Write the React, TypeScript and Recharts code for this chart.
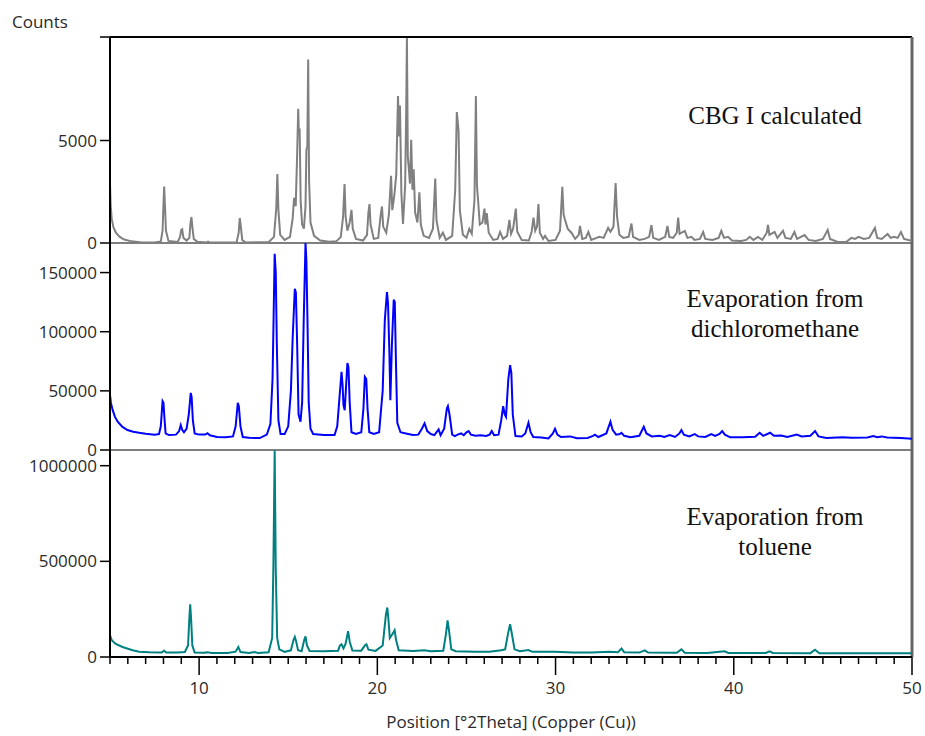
import { Line, LineChart, ReferenceLine, XAxis, YAxis } from 'recharts';

// 2-theta positions / counts
const calculated: [number, number][] = [
  [5.0, 2900], [5.04, 1800], [5.1, 1150], [5.2, 750], [5.35, 480], [5.55, 300], [5.8, 170], [6.2, 80], [6.8, 30], [7.5, 20],
  [7.85, 80], [7.95, 600], [8.0, 1900], [8.04, 2750], [8.08, 1900], [8.14, 600], [8.28, 100],
  [8.8, 50], [8.93, 300], [9.0, 640], [9.05, 670], [9.12, 250], [9.3, 120],
  [9.45, 250], [9.52, 1000], [9.57, 1270], [9.62, 800], [9.7, 200], [9.9, 60],
  [10.4, 20], [10.5, 70], [10.6, 20],
  [12.1, 30], [12.22, 500], [12.28, 1210], [12.33, 900], [12.42, 150], [12.6, 30],
  [13.9, 40], [14.2, 300], [14.33, 1700], [14.39, 3370], [14.45, 1600], [14.55, 400], [14.8, 150], [15.1, 300],
  [15.25, 1200], [15.33, 2200], [15.42, 1800], [15.5, 4300], [15.56, 6550], [15.6, 5300], [15.64, 5580], [15.7, 2000],
  [15.78, 900], [15.88, 700], [15.97, 1800], [16.02, 4550], [16.07, 4700], [16.12, 8950], [16.17, 3040], [16.25, 1000],
  [16.45, 350], [16.8, 120], [17.3, 60], [17.7, 80],
  [17.95, 300], [18.08, 1300], [18.16, 2875], [18.22, 1300], [18.32, 600], [18.45, 1000], [18.55, 1620], [18.62, 700],
  [18.8, 200], [19.2, 120], [19.42, 400], [19.5, 1500], [19.56, 1900], [19.62, 900], [19.8, 200], [20.05, 250],
  [20.18, 1300], [20.26, 1780], [20.33, 800], [20.5, 500], [20.65, 1400], [20.77, 3280], [20.84, 1600], [20.95, 2300],
  [21.06, 3300], [21.16, 7170], [21.22, 5200], [21.27, 6710], [21.35, 2400], [21.44, 930], [21.56, 2800], [21.62, 6500],
  [21.66, 10000], [21.71, 4200], [21.76, 3690], [21.83, 2900], [21.9, 5030], [21.97, 2600], [22.04, 3600], [22.12, 1500],
  [22.25, 1000], [22.36, 2470], [22.44, 900], [22.6, 350], [22.9, 250], [23.12, 700], [23.25, 3150], [23.32, 1100],
  [23.5, 250], [23.68, 500], [23.85, 150], [24.2, 350], [24.37, 2600], [24.46, 6390], [24.56, 5450], [24.63, 1600],
  [24.8, 400], [25.0, 250], [25.16, 690], [25.3, 450], [25.45, 2100], [25.53, 7170], [25.59, 2800], [25.65, 2120],
  [25.75, 900], [25.9, 1000], [26.01, 1680], [26.07, 900], [26.14, 1460], [26.25, 500], [26.5, 150], [26.75, 200],
  [26.89, 540], [27.05, 200], [27.28, 350], [27.41, 1130], [27.5, 450], [27.62, 700], [27.77, 1680], [27.85, 550],
  [28.1, 150], [28.5, 120], [28.66, 550], [28.76, 1240], [28.86, 600], [28.96, 800], [29.04, 1900], [29.12, 500],
  [29.3, 200], [29.41, 350], [29.6, 100], [30.0, 150], [30.25, 600], [30.38, 2740], [30.45, 1400], [30.53, 1130],
  [30.68, 700], [30.9, 490], [31.1, 200], [31.3, 400], [31.37, 830], [31.5, 200], [31.7, 250], [31.84, 540],
  [32.0, 150], [32.3, 250], [32.45, 300], [32.7, 250], [32.95, 735], [33.08, 550], [33.25, 800], [33.37, 2925],
  [33.45, 1300], [33.58, 400], [33.8, 250], [34.1, 300], [34.26, 950], [34.35, 300], [34.7, 150], [35.0, 200],
  [35.25, 300], [35.38, 870], [35.48, 250], [35.8, 150], [36.15, 300], [36.28, 833], [36.38, 300], [36.6, 250],
  [36.8, 500], [36.88, 1240], [36.96, 450], [37.25, 590], [37.4, 250], [37.62, 300], [37.8, 150], [38.1, 200],
  [38.28, 540], [38.4, 200], [38.8, 150], [39.15, 250], [39.3, 590], [39.45, 250], [39.68, 300], [39.9, 120],
  [40.4, 100], [40.7, 150], [40.9, 300], [41.1, 150], [41.36, 300], [41.6, 150], [41.85, 500], [41.92, 880],
  [42.0, 400], [42.29, 540], [42.45, 250], [42.76, 590], [42.9, 250], [43.2, 200], [43.4, 540], [43.55, 200],
  [43.97, 390], [44.2, 150], [44.6, 100], [45.0, 200], [45.27, 640], [45.4, 200], [45.8, 60], [46.3, 50],
  [46.6, 250], [46.8, 200], [47.0, 300], [47.3, 200], [47.6, 250], [47.92, 730], [48.05, 250], [48.3, 200],
  [48.63, 440], [48.8, 250], [49.0, 300], [49.2, 250], [49.38, 540], [49.55, 200], [49.8, 150], [50.0, 120],
];

const dichloromethane: [number, number][] = [
  [5.0, 46400], [5.05, 40000], [5.15, 33700], [5.28, 28000], [5.43, 23900], [5.7, 19500], [5.98, 16900], [6.3, 15500],
  [6.64, 14600], [7.0, 13800], [7.5, 13000], [7.75, 13500], [7.85, 20000], [7.92, 35000], [7.95, 41300], [8.0, 40000],
  [8.05, 28000], [8.12, 14000], [8.3, 12600], [8.7, 13000], [8.88, 16000], [8.97, 21000], [9.05, 17000], [9.15, 15000],
  [9.3, 18000], [9.42, 30000], [9.53, 48300], [9.58, 45000], [9.65, 25000], [9.75, 14000], [10.0, 13000], [10.35, 13000],
  [10.47, 14200], [10.6, 12500], [11.0, 11000], [11.5, 10700], [11.9, 11500], [12.05, 20000], [12.17, 39900], [12.23, 37000],
  [12.32, 20000], [12.45, 11000], [12.8, 10300], [13.4, 10100], [13.8, 13000], [14.0, 22000], [14.12, 60000], [14.18, 112000],
  [14.24, 165800], [14.3, 150000], [14.36, 90000], [14.45, 25000], [14.57, 13500], [14.8, 13500], [15.0, 20000], [15.15, 50000],
  [15.25, 95000], [15.37, 136300], [15.43, 133000], [15.5, 90000], [15.58, 30000], [15.69, 24000], [15.78, 40000], [15.87, 110000],
  [15.97, 175000], [16.02, 160000], [16.08, 110000], [16.15, 40000], [16.25, 18000], [16.4, 13500], [17.0, 12600], [17.6, 12600],
  [17.75, 20000], [17.88, 45000], [17.99, 66000], [18.05, 55000], [18.1, 38000], [18.17, 33700], [18.25, 55000], [18.32, 73600],
  [18.38, 70000], [18.45, 40000], [18.55, 15000], [18.8, 13500], [19.1, 15000], [19.22, 35000], [19.3, 61800], [19.38, 60000],
  [19.45, 35000], [19.55, 15000], [19.8, 13500], [20.1, 15000], [20.3, 50000], [20.42, 110000], [20.54, 133500], [20.6, 124000],
  [20.68, 80000], [20.73, 42100], [20.82, 90000], [20.92, 127000], [20.98, 125000], [21.05, 70000], [21.12, 23000], [21.3, 15000],
  [21.6, 14000], [22.0, 12600], [22.3, 13000], [22.5, 18000], [22.65, 22500], [22.8, 16000], [23.0, 13500], [23.2, 12600],
  [23.44, 17400], [23.55, 12500], [23.75, 18000], [23.9, 35000], [23.96, 37100], [24.05, 30000], [24.2, 13000], [24.35, 11800],
  [24.5, 13000], [24.7, 14000], [24.85, 12500], [25.0, 15000], [25.12, 16000], [25.25, 13000], [25.5, 12000], [25.8, 12500],
  [26.1, 11800], [26.3, 13000], [26.42, 16000], [26.55, 12500], [26.8, 13000], [26.95, 25000], [27.06, 37100], [27.15, 30000],
  [27.22, 28000], [27.35, 60000], [27.45, 71700], [27.52, 65000], [27.6, 30000], [27.75, 11800], [28.1, 11500], [28.3, 14000],
  [28.48, 23000], [28.6, 15000], [28.75, 11000], [29.2, 10500], [29.6, 9700], [29.85, 14000], [29.97, 18000], [30.1, 13000],
  [30.3, 11000], [30.81, 11500], [31.2, 10000], [31.8, 10200], [32.1, 12000], [32.21, 13000], [32.4, 11000], [32.85, 14000],
  [33.08, 23900], [33.2, 17000], [33.4, 13000], [33.6, 13500], [33.7, 14600], [33.85, 12000], [34.2, 10700], [34.7, 12000],
  [34.95, 19700], [35.1, 14000], [35.4, 11500], [35.85, 12000], [36.1, 11000], [36.41, 12600], [36.7, 11000], [36.95, 14000],
  [37.06, 16900], [37.2, 13000], [37.5, 11500], [37.81, 13500], [38.0, 11500], [38.4, 11000], [38.74, 13500], [38.95, 12000],
  [39.2, 13500], [39.35, 16000], [39.5, 13000], [39.8, 10700], [40.5, 10700], [41.2, 11200], [41.45, 14600], [41.65, 12000],
  [42.04, 14600], [42.25, 12000], [42.66, 12200], [43.0, 11000], [43.54, 13000], [43.8, 11500], [44.3, 12000], [44.56, 16000],
  [44.75, 11500], [45.2, 10100], [46.1, 10700], [46.6, 10300], [47.5, 10500], [47.83, 11800], [48.05, 10800], [48.3, 11500],
  [48.6, 10500], [49.38, 10100], [50.0, 9600],
];

const toluene: [number, number][] = [
  [5.0, 113600], [5.1, 87400], [5.3, 70000], [5.7, 52400], [6.27, 35000], [6.64, 28000], [7.2, 25000], [7.9, 24000],
  [8.04, 33000], [8.15, 24000], [8.8, 24000], [9.2, 26000], [9.38, 60000], [9.45, 200000], [9.5, 276000], [9.55, 200000],
  [9.62, 60000], [9.75, 24000], [10.3, 22000], [10.47, 24500], [10.7, 21000], [11.6, 21000], [12.05, 28000], [12.2, 52400],
  [12.32, 26000], [12.8, 21000], [13.1, 26000], [13.3, 21000], [13.9, 25000], [14.1, 100000], [14.17, 497000], [14.24, 1080000],
  [14.3, 460000], [14.38, 100000], [14.5, 40000], [14.8, 27000], [15.15, 35000], [15.3, 90000], [15.37, 105000], [15.45, 80000],
  [15.55, 35000], [15.75, 30000], [15.9, 90000], [15.97, 108000], [16.05, 60000], [16.2, 31400], [17.0, 30000], [17.8, 33000],
  [17.9, 60000], [17.99, 66500], [18.1, 45000], [18.22, 70000], [18.36, 134600], [18.45, 80000], [18.6, 34000], [19.1, 33000],
  [19.3, 60000], [19.39, 66500], [19.5, 38000], [19.9, 32000], [20.3, 60000], [20.48, 220000], [20.56, 258600], [20.62, 200000],
  [20.7, 99000], [20.85, 120000], [20.97, 139800], [21.05, 90000], [21.2, 35000], [22.0, 31000], [22.65, 35000], [23.0, 30000],
  [23.7, 33000], [23.85, 120000], [23.94, 192000], [24.02, 140000], [24.15, 40000], [24.4, 30000], [25.5, 27000], [26.3, 28000],
  [26.5, 30000], [26.95, 35000], [27.17, 40000], [27.35, 130000], [27.45, 171000], [27.55, 120000], [27.7, 40000], [28.0, 30000],
  [28.48, 36000], [28.7, 27000], [29.97, 27000], [31.0, 24000], [32.0, 23000], [33.05, 27000], [33.5, 25000], [33.7, 44000],
  [33.85, 25000], [34.7, 23000], [35.0, 35000], [35.2, 23000], [36.8, 22000], [37.06, 40000], [37.25, 22000], [38.5, 21000],
  [39.49, 30000], [39.7, 21000], [41.8, 21000], [42.0, 30000], [42.2, 21000], [44.3, 20000], [44.56, 38000], [44.8, 20000],
  [47.0, 19500], [50.0, 19000],
];

const xTicks = [5, 6, 7, 8, 9, 10, 11, 12, 13, 14, 15, 16, 17, 18, 19, 20, 21, 22, 23, 24, 25, 26, 27, 28, 29, 30,
  31, 32, 33, 34, 35, 36, 37, 38, 39, 40, 41, 42, 43, 44, 45, 46, 47, 48, 49, 50];
const xLabels = [10, 20, 30, 40, 50];
const calcTicks = [0, 5000, 10050];
const dcmTicks = [0, 50000, 100000, 150000];
const tolTicks = [0, 500000, 1000000];

const CALC_TOP = 10050;
const DCM_TOP = 175000;
const TOL_TOP = 1082000;

const toRows = (pts: [number, number][]) => pts.map(([theta, counts]) => ({ theta, counts }));

const SANS = '"Open Sans", "Noto Sans", sans-serif';
const SERIF = '"Liberation Serif", "DejaVu Serif", serif';
const FS = 17;
const tickStyle = { fill: '#2a2a2a', fontSize: FS, fontFamily: SANS };
const yAxisProps = {
  type: 'number' as const,
  width: 100,
  tickSize: 10,
  tickMargin: 3,
  interval: 0 as const,
  axisLine: { stroke: '#000', strokeWidth: 2 },
  tickLine: { stroke: '#000', strokeWidth: 1.5 },
  tick: tickStyle,
};

function XTick({ x, y, payload }: { x?: number; y?: number; payload?: { value: number } }) {
  if (x == null || y == null || !payload) return null;
  const major = xLabels.includes(payload.value);
  return (
    <g>
      <line x1={x} x2={x} y1={y} y2={y + (major ? 18 : 7)} stroke="#000" strokeWidth={1.5} />
      {major && (
        <text x={x} y={y + 37} textAnchor="middle" fill="#2a2a2a" fontSize={FS} fontFamily={SANS}>
          {payload.value}
        </text>
      )}
    </g>
  );
}

function Note({ x, y, lines }: { x: number; y: number; lines: string[] }) {
  return (
    <text x={x} y={y} textAnchor="middle" fill="#111" fontSize={25} fontFamily={SERIF}>
      {lines.map((l, i) => (
        <tspan key={l} x={x} dy={i === 0 ? 0 : 30}>
          {l}
        </tspan>
      ))}
    </text>
  );
}

export default function App() {
  return (
    <div style={{ position: 'absolute', left: 0, top: 0, width: 925, height: 736, background: '#fff' }}>
      {/* panel 1: calculated pattern */}
      <div style={{ position: 'absolute', left: 0, top: 0 }}>
        <LineChart width={925} height={263} data={toRows(calculated)} margin={{ top: 37, right: 13, bottom: 20, left: 10 }}>
          <XAxis dataKey="theta" type="number" domain={[5, 50]} hide />
          <YAxis
            {...yAxisProps}
            domain={[0, CALC_TOP]}
            ticks={calcTicks}
            tickFormatter={(v: number) => (v === CALC_TOP ? '' : String(v))}
          />
          <ReferenceLine y={CALC_TOP} stroke="#000" strokeWidth={2} />
          <ReferenceLine y={0} stroke="#555" strokeWidth={1.5} />
          <ReferenceLine x={50} stroke="#666" strokeWidth={3} />
          <Line type="linear" dataKey="counts" stroke="#808080" strokeWidth={2} dot={false} isAnimationActive={false} />
          <Note x={775} y={124} lines={['CBG I calculated']} />
          <text x={12} y={28} fill="#2a2a2a" fontSize={FS} fontFamily={SANS}>
            Counts
          </text>
        </LineChart>
      </div>

      {/* panel 2: dichloromethane */}
      <div style={{ position: 'absolute', left: 0, top: 223 }}>
        <LineChart width={925} height={247} data={toRows(dichloromethane)} margin={{ top: 20, right: 13, bottom: 20, left: 10 }}>
          <XAxis dataKey="theta" type="number" domain={[5, 50]} hide />
          <YAxis {...yAxisProps} domain={[0, DCM_TOP]} ticks={dcmTicks} />
          <ReferenceLine y={0} stroke="#555" strokeWidth={1.5} />
          <ReferenceLine x={50} stroke="#666" strokeWidth={3} />
          <Line type="linear" dataKey="counts" stroke="#0000ff" strokeWidth={2} dot={false} isAnimationActive={false} />
          <Note x={775} y={84} lines={['Evaporation from', 'dichloromethane']} />
        </LineChart>
      </div>

      {/* panel 3: toluene + shared x axis */}
      <div style={{ position: 'absolute', left: 0, top: 430 }}>
        <LineChart width={925} height={306} data={toRows(toluene)} margin={{ top: 20, right: 13, bottom: 0, left: 10 }}>
          <XAxis
            dataKey="theta"
            type="number"
            domain={[5, 50]}
            ticks={xTicks}
            interval={0}
            height={79}
            tickSize={0}
            tickMargin={0}
            tickLine={false}
            axisLine={{ stroke: '#000', strokeWidth: 2 }}
            tick={(p: any) => <XTick x={p.x} y={p.y} payload={p.payload} />}
            label={{
              value: 'Position [°2Theta] (Copper (Cu))',
              position: 'insideBottom',
              offset: 8,
              fill: '#2a2a2a',
              fontSize: FS,
              fontFamily: SANS,
            }}
          />
          <YAxis {...yAxisProps} domain={[0, TOL_TOP]} ticks={tolTicks} />
          <ReferenceLine x={50} stroke="#666" strokeWidth={3} />
          <Line type="linear" dataKey="counts" stroke="#008080" strokeWidth={2} dot={false} isAnimationActive={false} />
          <Note x={775} y={95} lines={['Evaporation from', 'toluene']} />
        </LineChart>
      </div>
    </div>
  );
}
